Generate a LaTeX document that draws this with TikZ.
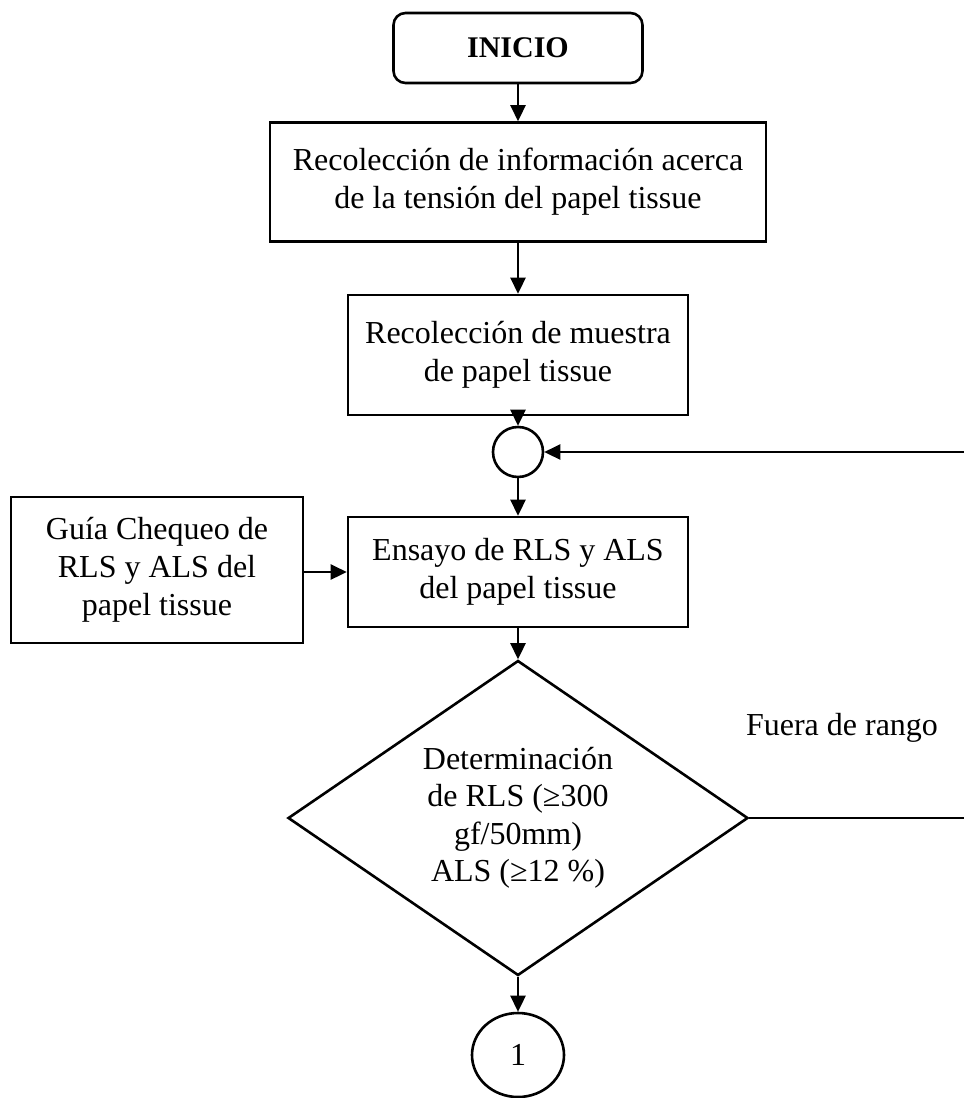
\documentclass[tikz,border=0pt]{standalone}
\usepackage{fontspec}
\setmainfont{Liberation Serif}
\usetikzlibrary{shapes.geometric,arrows.meta}
\begin{document}
\begin{tikzpicture}[x=1pt,y=-1pt,
  every node/.style={font=\fontsize{32}{38}\selectfont, align=center, inner sep=0pt},
  procbox/.style={draw, line width=2.6pt, rectangle},
  connector/.style={draw, line width=2.6pt, circle},
  link/.style={line width=2.6pt},
  arr/.style={link, -{Triangle[length=16pt,width=15pt]}}
]
\useasboundingbox (0,0) rectangle (964,1098);
\node[procbox, rounded corners=12pt, minimum width=249pt, minimum height=70pt,
      font=\fontsize{30}{34}\selectfont\bfseries] (inicio) at (518,48) {INICIO};
\node[procbox, minimum width=496pt, minimum height=119pt] (b1) at (518,182)
  {Recolección de información acerca\\de la tensión del papel tissue};
\node[procbox, minimum width=340pt, minimum height=120pt] (b2) at (518,355)
  {Recolección de muestra\\de papel tissue};
\node[connector, minimum size=50pt] (c1) at (518,452) {};
\node[procbox, minimum width=340pt, minimum height=110pt] (b3) at (518,572)
  {Ensayo de RLS y ALS\\del papel tissue};
\node[procbox, minimum width=292pt, minimum height=146pt] (guia) at (157,570)
  {Guía Chequeo de\\RLS y ALS del\\papel tissue};
\node[draw, line width=2.6pt, diamond, shape aspect=1.46, minimum width=460pt, minimum height=315pt,
      font=\fontsize{32}{37.5}\selectfont] (dec) at (518,818)
  {Determinación\\de RLS (≥300\\gf/50mm)\\ALS (≥12 \%)};
\node[draw, line width=2.6pt, ellipse, minimum width=92pt, minimum height=84pt] (c2) at (518,1055) {1};
\node (fuera) at (842,728) {Fuera de rango};
\coordinate (rtop) at (964,452);
\coordinate (rbot) at (964,818);

\draw[arr] (inicio.south) -- (b1.north);
\draw[arr] (b1.south) -- (b2.north);
\draw[arr] (b2.south) -- (c1.north);
\draw[arr] (c1.south) -- (b3.north);
\draw[arr] (guia.east |- b3.west) -- (b3.west);
\draw[arr] (b3.south) -- (dec.north);
\draw[arr] (dec.south) -- (c2.north);
\draw[link] (dec.east) -- (rbot);
\draw[arr] (rtop) -- (c1.east);
\end{tikzpicture}
\end{document}
